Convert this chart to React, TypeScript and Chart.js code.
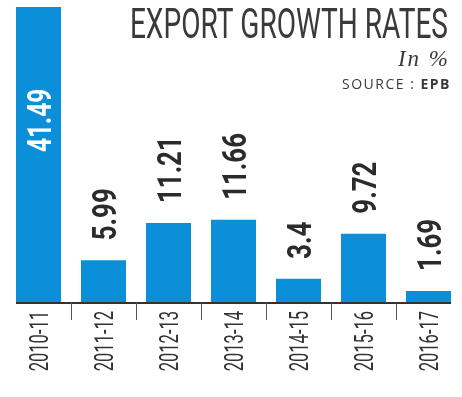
import React, { useEffect, useRef } from "react";
import { Chart, registerables } from "chart.js";

Chart.register(...registerables);

const CATEGORIES = ["2010-11", "2011-12", "2012-13", "2013-14", "2014-15", "2015-16", "2016-17"];
const VALUES = [41.49, 5.99, 11.21, 11.66, 3.4, 9.72, 1.69];
const VALUE_LABELS = ["41.49", "5.99", "11.21", "11.66", "3.4", "9.72", "1.69"];
const TITLE = "EXPORT GROWTH RATES";
const SUBTITLE = "In %";
const SOURCE_PREFIX = "SOURCE : ";
const SOURCE_NAME = "EPB";

const BLUE = "#0b8fd8";
const DARK = "#2b2b2b";

function drawVertical(
  ctx: CanvasRenderingContext2D,
  text: string,
  cx: number,
  y: number,
  font: string,
  capH: number,
  scale: number,
  color: string,
  align: CanvasTextAlign
) {
  ctx.save();
  ctx.translate(cx + capH / 2, y);
  ctx.rotate(-Math.PI / 2);
  ctx.scale(scale, 1);
  ctx.font = font;
  ctx.fillStyle = color;
  ctx.textAlign = align;
  ctx.textBaseline = "alphabetic";
  ctx.fillText(text, 0, 0);
  ctx.restore();
}

const decorPlugin = {
  id: "decor",
  afterDatasetsDraw(chart: any) {
    const ctx: CanvasRenderingContext2D = chart.ctx;
    const bars = chart.getDatasetMeta(0).data;
    const base = chart.chartArea.bottom;
    const first = bars[0];
    const last = bars[bars.length - 1];
    const fl = first.x - first.width / 2;
    const lr = last.x + last.width / 2;

    ctx.save();
    ctx.fillStyle = "#333";
    ctx.fillRect(fl, base - 1, lr - fl, 2);
    ctx.strokeStyle = "#555";
    ctx.lineWidth = 1;
    for (let i = 1; i < bars.length; i++) {
      const x = Math.round((bars[i - 1].x + bars[i].x) / 2) + 0.5;
      ctx.beginPath();
      ctx.moveTo(x, base);
      ctx.lineTo(x, base + 17);
      ctx.stroke();
    }
    ctx.restore();

    for (let i = 0; i < bars.length; i++) {
      const b = bars[i];
      const font = "bold 34px Roboto";
      if (i === 0) {
        drawVertical(ctx, VALUE_LABELS[i], b.x, 152, font, 24, 0.72, "#ffffff", "left");
      } else {
        drawVertical(ctx, VALUE_LABELS[i], b.x, b.y - 20, font, 24, 0.76, DARK, "left");
      }
      drawVertical(ctx, CATEGORIES[i], b.x, 311, "25px Roboto", 18, 0.66, "#333", "right");
    }

    ctx.save();
    ctx.fillStyle = "#3a3a3a";
    ctx.translate(448, 38);
    ctx.scale(0.668, 1);
    ctx.font = "400 42px Roboto";
    ctx.textAlign = "right";
    ctx.textBaseline = "alphabetic";
    ctx.fillText(TITLE, 0, 0);
    ctx.restore();

    ctx.save();
    ctx.fillStyle = "#3a3a3a";
    ctx.font = "italic 23px 'Liberation Serif'";
    (ctx as any).letterSpacing = "2px";
    ctx.textAlign = "right";
    ctx.textBaseline = "alphabetic";
    ctx.fillText(SUBTITLE, 450, 66);
    ctx.restore();

    ctx.save();
    ctx.fillStyle = "#3a3a3a";
    ctx.textAlign = "right";
    ctx.textBaseline = "alphabetic";
    (ctx as any).letterSpacing = "1.5px";
    ctx.font = "bold 14px 'Open Sans'";
    const w = ctx.measureText(SOURCE_NAME).width;
    ctx.fillText(SOURCE_NAME, 451, 89);
    ctx.font = "14px 'Open Sans'";
    ctx.fillText(SOURCE_PREFIX, 451 - w, 89);
    ctx.restore();
  },
};

export default function App() {
  const ref = useRef<HTMLCanvasElement | null>(null);

  useEffect(() => {
    document.body.style.margin = "0";
    if (!ref.current) return;
    const chart = new Chart(ref.current, {
      type: "bar",
      data: {
        labels: CATEGORIES,
        datasets: [
          {
            data: VALUES,
            backgroundColor: BLUE,
            categoryPercentage: 1,
            barPercentage: 45 / 65,
          },
        ],
      },
      options: {
        responsive: false,
        animation: false,
        layout: { padding: { left: 6, right: 1, top: 7, bottom: 94 } },
        scales: {
          x: { display: false },
          y: { display: false, min: 0, max: 41.49 },
        },
        plugins: { legend: { display: false }, tooltip: { enabled: false } },
      },
      plugins: [decorPlugin],
    });
    return () => chart.destroy();
  }, []);

  return (
    <div style={{ width: 462, height: 397, background: "#fff" }}>
      <canvas ref={ref} width={462} height={397} style={{ display: "block" }} />
    </div>
  );
}
